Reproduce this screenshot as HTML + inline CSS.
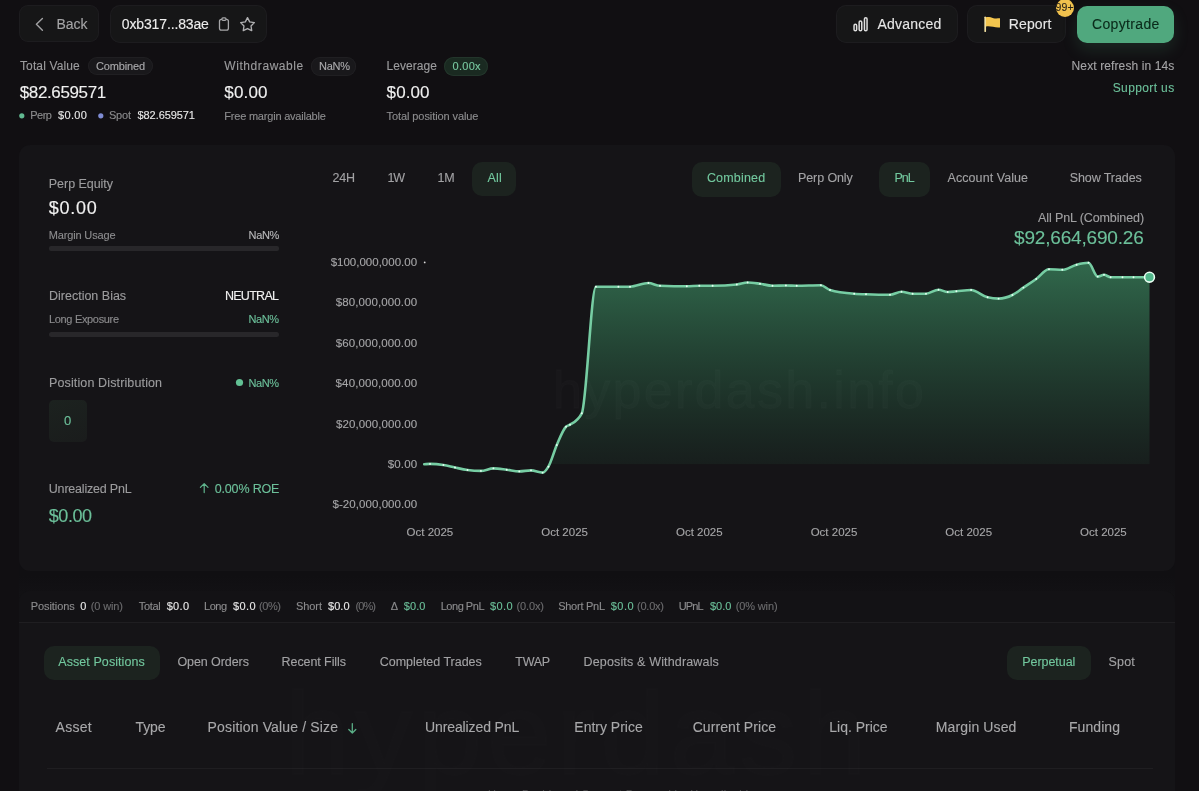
<!DOCTYPE html>
<html><head><meta charset="utf-8"><style>
html,body{margin:0;padding:0;}
body{width:1199px;height:791px;overflow:hidden;background:#110f12;position:relative;font-family:"Liberation Sans",sans-serif;-webkit-font-smoothing:antialiased;}
.wrap{position:absolute;left:0;top:0;width:1199px;height:791px;overflow:hidden;will-change:transform;}
.t{position:absolute;white-space:nowrap;-webkit-text-stroke:0.12px currentColor;}
.r{position:absolute;}
svg{position:absolute;left:0;top:0;}
</style></head><body><div class="wrap">
<div class="r" style="left:19px;top:560px;width:1156px;height:40px;background:linear-gradient(#100f12 0%,#100f12 40%,#131215 100%);border-radius:0px;"></div>
<div class="r" style="left:19px;top:145px;width:1156px;height:426px;background:#151417;border-radius:11px;"></div>
<div class="r" style="left:19px;top:591px;width:1156px;height:229px;background:#151417;border-radius:11px;"></div>
<svg width="1199" height="791" viewBox="0 0 1199 791"><defs>
<linearGradient id="gf" x1="0" y1="262" x2="0" y2="464.3" gradientUnits="userSpaceOnUse">
<stop offset="0" stop-color="#3d8d63" stop-opacity="0.70"/>
<stop offset="1" stop-color="#2a6a48" stop-opacity="0.12"/>
</linearGradient>
<clipPath id="cz"><rect x="400" y="200" width="800" height="264.3"/></clipPath>
</defs>
<path d="M424.2 464.2 C426.1 464.1 428.1 463.9 430.0 463.9 C434.5 463.9 438.9 464.3 443.4 465.0 C447.3 465.6 451.1 466.7 455.0 467.5 C459.2 468.4 463.3 469.4 467.5 470.0 C472.0 470.6 476.4 470.9 480.9 470.9 C485.1 470.9 489.2 468.4 493.4 468.4 C497.8 468.4 502.3 469.2 506.7 469.7 C510.9 470.2 515.1 471.4 519.3 471.4 C523.2 471.4 527.1 470.4 531.0 470.4 C534.9 470.4 538.7 472.6 542.6 472.6 C544.5 472.6 546.5 469.9 548.4 466.7 C551.2 462.1 554.0 451.4 556.8 445.0 C559.9 437.9 562.9 429.6 566.0 426.7 C567.3 425.4 568.7 425.5 570.0 424.7 C573.9 422.3 577.9 420.9 581.8 413.3 C586.5 404.2 591.2 286.7 595.9 286.7 C603.4 286.7 610.9 286.7 618.4 286.7 C622.3 286.7 626.1 286.7 630.0 286.7 C636.1 286.7 642.3 283.0 648.4 283.0 C652.3 283.0 656.1 285.7 660.0 285.8 C668.9 286.1 677.9 286.3 686.8 286.3 C691.0 286.3 695.1 285.8 699.3 285.8 C703.7 285.8 708.2 285.8 712.6 285.8 C720.7 285.8 728.7 285.4 736.8 284.5 C740.4 284.1 744.0 282.5 747.6 282.5 C751.7 282.5 755.9 283.2 760.0 283.7 C764.2 284.3 768.3 285.8 772.5 285.8 C777.0 285.8 781.4 285.5 785.9 285.5 C789.5 285.5 793.1 285.8 796.7 285.8 C804.8 285.8 812.8 285.3 820.9 285.3 C823.9 285.3 827.0 289.1 830.0 290.0 C838.1 292.5 846.1 293.1 854.2 293.7 C858.1 294.0 862.1 294.1 866.0 294.2 C874.0 294.5 882.0 294.7 890.0 294.7 C893.8 294.7 897.7 291.7 901.5 291.7 C905.2 291.7 908.9 293.7 912.6 293.7 C917.1 293.7 921.5 293.7 926.0 293.7 C930.2 293.7 934.3 289.7 938.5 289.7 C941.6 289.7 944.6 292.0 947.7 292.0 C950.6 292.0 953.5 291.5 956.4 291.3 C961.3 290.9 966.2 290.0 971.1 290.0 C976.6 290.0 982.1 296.0 987.6 297.3 C991.3 298.2 994.9 298.6 998.6 298.6 C1003.2 298.6 1007.8 297.3 1012.4 295.0 C1016.1 293.2 1019.7 290.1 1023.4 287.6 C1027.7 284.7 1031.9 282.1 1036.2 279.0 C1040.5 275.9 1044.7 269.3 1049.0 269.3 C1053.4 269.3 1057.9 269.8 1062.3 269.8 C1067.1 269.8 1071.8 265.9 1076.6 264.7 C1080.6 263.7 1084.5 262.8 1088.5 262.8 C1091.6 262.8 1094.6 276.6 1097.7 276.6 C1099.8 276.6 1101.9 274.8 1104.0 274.8 C1106.2 274.8 1108.4 277.2 1110.6 277.2 C1114.6 277.2 1118.5 277.2 1122.5 277.2 C1126.2 277.2 1129.8 277.2 1133.5 277.2 C1138.8 277.2 1144.2 277.2 1149.5 277.2 L1149.5 464.3 L424.2 464.3 Z" fill="url(#gf)" clip-path="url(#cz)"/>
<path d="M424.2 464.2 C426.1 464.1 428.1 463.9 430.0 463.9 C434.5 463.9 438.9 464.3 443.4 465.0 C447.3 465.6 451.1 466.7 455.0 467.5 C459.2 468.4 463.3 469.4 467.5 470.0 C472.0 470.6 476.4 470.9 480.9 470.9 C485.1 470.9 489.2 468.4 493.4 468.4 C497.8 468.4 502.3 469.2 506.7 469.7 C510.9 470.2 515.1 471.4 519.3 471.4 C523.2 471.4 527.1 470.4 531.0 470.4 C534.9 470.4 538.7 472.6 542.6 472.6 C544.5 472.6 546.5 469.9 548.4 466.7 C551.2 462.1 554.0 451.4 556.8 445.0 C559.9 437.9 562.9 429.6 566.0 426.7 C567.3 425.4 568.7 425.5 570.0 424.7 C573.9 422.3 577.9 420.9 581.8 413.3 C586.5 404.2 591.2 286.7 595.9 286.7 C603.4 286.7 610.9 286.7 618.4 286.7 C622.3 286.7 626.1 286.7 630.0 286.7 C636.1 286.7 642.3 283.0 648.4 283.0 C652.3 283.0 656.1 285.7 660.0 285.8 C668.9 286.1 677.9 286.3 686.8 286.3 C691.0 286.3 695.1 285.8 699.3 285.8 C703.7 285.8 708.2 285.8 712.6 285.8 C720.7 285.8 728.7 285.4 736.8 284.5 C740.4 284.1 744.0 282.5 747.6 282.5 C751.7 282.5 755.9 283.2 760.0 283.7 C764.2 284.3 768.3 285.8 772.5 285.8 C777.0 285.8 781.4 285.5 785.9 285.5 C789.5 285.5 793.1 285.8 796.7 285.8 C804.8 285.8 812.8 285.3 820.9 285.3 C823.9 285.3 827.0 289.1 830.0 290.0 C838.1 292.5 846.1 293.1 854.2 293.7 C858.1 294.0 862.1 294.1 866.0 294.2 C874.0 294.5 882.0 294.7 890.0 294.7 C893.8 294.7 897.7 291.7 901.5 291.7 C905.2 291.7 908.9 293.7 912.6 293.7 C917.1 293.7 921.5 293.7 926.0 293.7 C930.2 293.7 934.3 289.7 938.5 289.7 C941.6 289.7 944.6 292.0 947.7 292.0 C950.6 292.0 953.5 291.5 956.4 291.3 C961.3 290.9 966.2 290.0 971.1 290.0 C976.6 290.0 982.1 296.0 987.6 297.3 C991.3 298.2 994.9 298.6 998.6 298.6 C1003.2 298.6 1007.8 297.3 1012.4 295.0 C1016.1 293.2 1019.7 290.1 1023.4 287.6 C1027.7 284.7 1031.9 282.1 1036.2 279.0 C1040.5 275.9 1044.7 269.3 1049.0 269.3 C1053.4 269.3 1057.9 269.8 1062.3 269.8 C1067.1 269.8 1071.8 265.9 1076.6 264.7 C1080.6 263.7 1084.5 262.8 1088.5 262.8 C1091.6 262.8 1094.6 276.6 1097.7 276.6 C1099.8 276.6 1101.9 274.8 1104.0 274.8 C1106.2 274.8 1108.4 277.2 1110.6 277.2 C1114.6 277.2 1118.5 277.2 1122.5 277.2 C1126.2 277.2 1129.8 277.2 1133.5 277.2 C1138.8 277.2 1144.2 277.2 1149.5 277.2" fill="none" stroke="#76cda3" stroke-width="2.6" stroke-linejoin="round" stroke-linecap="round"/>
<circle cx="430" cy="463.9" r="0.95" fill="#e8fff2"/><circle cx="443.4" cy="465" r="0.95" fill="#e8fff2"/><circle cx="455" cy="467.5" r="0.95" fill="#e8fff2"/><circle cx="467.5" cy="470" r="0.95" fill="#e8fff2"/><circle cx="480.9" cy="470.9" r="0.95" fill="#e8fff2"/><circle cx="493.4" cy="468.4" r="0.95" fill="#e8fff2"/><circle cx="506.7" cy="469.7" r="0.95" fill="#e8fff2"/><circle cx="519.3" cy="471.4" r="0.95" fill="#e8fff2"/><circle cx="531" cy="470.4" r="0.95" fill="#e8fff2"/><circle cx="542.6" cy="472.6" r="0.95" fill="#e8fff2"/><circle cx="548.4" cy="466.7" r="0.95" fill="#e8fff2"/><circle cx="556.8" cy="445" r="0.95" fill="#e8fff2"/><circle cx="566" cy="426.7" r="0.95" fill="#e8fff2"/><circle cx="570" cy="424.7" r="0.95" fill="#e8fff2"/><circle cx="581.8" cy="413.3" r="0.95" fill="#e8fff2"/><circle cx="595.9" cy="286.7" r="0.95" fill="#e8fff2"/><circle cx="618.4" cy="286.7" r="0.95" fill="#e8fff2"/><circle cx="630" cy="286.7" r="0.95" fill="#e8fff2"/><circle cx="648.4" cy="283" r="0.95" fill="#e8fff2"/><circle cx="660" cy="285.8" r="0.95" fill="#e8fff2"/><circle cx="686.8" cy="286.3" r="0.95" fill="#e8fff2"/><circle cx="699.3" cy="285.8" r="0.95" fill="#e8fff2"/><circle cx="712.6" cy="285.8" r="0.95" fill="#e8fff2"/><circle cx="736.8" cy="284.5" r="0.95" fill="#e8fff2"/><circle cx="747.6" cy="282.5" r="0.95" fill="#e8fff2"/><circle cx="760" cy="283.7" r="0.95" fill="#e8fff2"/><circle cx="772.5" cy="285.8" r="0.95" fill="#e8fff2"/><circle cx="785.9" cy="285.5" r="0.95" fill="#e8fff2"/><circle cx="796.7" cy="285.8" r="0.95" fill="#e8fff2"/><circle cx="820.9" cy="285.3" r="0.95" fill="#e8fff2"/><circle cx="830" cy="290" r="0.95" fill="#e8fff2"/><circle cx="854.2" cy="293.7" r="0.95" fill="#e8fff2"/><circle cx="866" cy="294.2" r="0.95" fill="#e8fff2"/><circle cx="890" cy="294.7" r="0.95" fill="#e8fff2"/><circle cx="901.5" cy="291.7" r="0.95" fill="#e8fff2"/><circle cx="912.6" cy="293.7" r="0.95" fill="#e8fff2"/><circle cx="926" cy="293.7" r="0.95" fill="#e8fff2"/><circle cx="938.5" cy="289.7" r="0.95" fill="#e8fff2"/><circle cx="947.7" cy="292" r="0.95" fill="#e8fff2"/><circle cx="956.4" cy="291.3" r="0.95" fill="#e8fff2"/><circle cx="971.1" cy="290" r="0.95" fill="#e8fff2"/><circle cx="987.6" cy="297.3" r="0.95" fill="#e8fff2"/><circle cx="998.6" cy="298.6" r="0.95" fill="#e8fff2"/><circle cx="1012.4" cy="295" r="0.95" fill="#e8fff2"/><circle cx="1023.4" cy="287.6" r="0.95" fill="#e8fff2"/><circle cx="1036.2" cy="279" r="0.95" fill="#e8fff2"/><circle cx="1049" cy="269.3" r="0.95" fill="#e8fff2"/><circle cx="1062.3" cy="269.8" r="0.95" fill="#e8fff2"/><circle cx="1076.6" cy="264.7" r="0.95" fill="#e8fff2"/><circle cx="1088.5" cy="262.8" r="0.95" fill="#e8fff2"/><circle cx="1097.7" cy="276.6" r="0.95" fill="#e8fff2"/><circle cx="1104" cy="274.8" r="0.95" fill="#e8fff2"/><circle cx="1110.6" cy="277.2" r="0.95" fill="#e8fff2"/><circle cx="1122.5" cy="277.2" r="0.95" fill="#e8fff2"/><circle cx="1133.5" cy="277.2" r="0.95" fill="#e8fff2"/><circle cx="1149.5" cy="277.2" r="4.9" fill="#50b68a" stroke="#e8fff2" stroke-width="1.6"/></svg>
<div class="t" style="left:553px;top:364px;font-size:52px;line-height:52px;font-weight:400;color:rgba(255,255,255,0.016);letter-spacing:2.3px;-webkit-text-stroke:1.3px rgba(255,255,255,0.016);">hyperdash.info</div>
<div class="r" style="left:19px;top:5px;width:80px;height:37px;background:#161617;border-radius:9px;box-shadow:inset 0 0 0 1px #1d1c1f;"></div>
<div class="r" style="left:110px;top:5px;width:157px;height:38px;background:#161617;border-radius:10px;box-shadow:inset 0 0 0 1px #1d1c1f;"></div>
<div class="r" style="left:836px;top:5px;width:122px;height:38px;background:#161617;border-radius:10px;box-shadow:inset 0 0 0 1px #1d1c1f;"></div>
<div class="r" style="left:967px;top:5px;width:99px;height:38px;background:#161617;border-radius:10px;box-shadow:inset 0 0 0 1px #1d1c1f;"></div>
<div class="r" style="left:1077px;top:6px;width:97px;height:37px;background:#50a87e;border-radius:10px;box-shadow:0 7px 16px rgba(79,167,125,0.16);"></div>
<div class="r" style="left:1056px;top:-1px;width:18px;height:18px;background:#f0c14d;border-radius:9px;"></div>
<div class="r" style="left:88px;top:57px;width:65px;height:18px;background:#19181b;border-radius:9px;box-shadow:inset 0 0 0 1px #201f22;"></div>
<div class="r" style="left:311px;top:57px;width:45px;height:18.5px;background:#19181b;border-radius:9px;box-shadow:inset 0 0 0 1px #201f22;"></div>
<div class="r" style="left:444px;top:57px;width:44px;height:19px;background:#1a2a21;border-radius:9.5px;box-shadow:inset 0 0 0 1px #23352b;"></div>
<div class="r" style="left:49px;top:246px;width:230px;height:4.5px;background:#28272a;border-radius:2px;"></div>
<div class="r" style="left:49px;top:332px;width:230px;height:5px;background:#28272a;border-radius:2.5px;"></div>
<div class="r" style="left:49px;top:400px;width:38px;height:42px;background:linear-gradient(160deg,#1c221f 0%,#1a1c1c 100%);border-radius:5px;"></div>
<div class="r" style="left:472px;top:162px;width:44px;height:33.5px;background:#1c231f;border-radius:10px;"></div>
<div class="r" style="left:692px;top:162px;width:89px;height:34.5px;background:#1c231f;border-radius:10px;"></div>
<div class="r" style="left:878.5px;top:162px;width:51.0px;height:34.5px;background:#1c231f;border-radius:10px;"></div>
<div class="r" style="left:19px;top:591px;width:1156px;height:31px;background:#131215;border-radius:11px;border-bottom-left-radius:0;border-bottom-right-radius:0;"></div>
<div class="r" style="left:19px;top:622px;width:1156px;height:1px;background:#1f1e21;border-radius:0px;"></div>
<div class="r" style="left:44px;top:646px;width:116px;height:34px;background:#1c231f;border-radius:10px;"></div>
<div class="r" style="left:1006.5px;top:646px;width:84.0px;height:33.5px;background:#1c231f;border-radius:10px;"></div>
<div class="r" style="left:47px;top:768px;width:1106px;height:1px;background:#1f1e21;border-radius:0px;"></div>
<div class="t" style="left:285px;top:676px;font-size:116px;line-height:116px;font-weight:400;color:rgba(255,255,255,0.008);letter-spacing:5px;-webkit-text-stroke:2.5px rgba(255,255,255,0.008);">hyperdash</div>
<div class="t" style="left:488px;top:789px;font-size:11px;line-height:11px;color:#4a494c;letter-spacing:0.3px;">Home  Dashboard  Support  Powered by Hyperliquid</div>
<svg width="1199" height="791" viewBox="0 0 1199 791"><path d="M42.4 18.4 L36.4 24.3 L42.4 30.2" fill="none" stroke="#a0a0a2" stroke-width="1.4" stroke-linecap="round" stroke-linejoin="round"/><rect x="219.5" y="19.3" width="8.9" height="10.8" rx="1.9" fill="none" stroke="#a6a6a8" stroke-width="1.3"/><rect x="221.9" y="17.9" width="4.1" height="2.4" rx="1" fill="#161617" stroke="#a6a6a8" stroke-width="1.2"/><polygon points="247.50,17.65 249.67,21.86 254.35,22.63 251.02,25.99 251.73,30.67 247.50,28.55 243.27,30.67 243.98,25.99 240.65,22.63 245.33,21.86" fill="none" stroke="#b0b0b2" stroke-width="1.35" stroke-linejoin="round"/><rect x="854.05" y="24.35" width="2.6" height="6.5" rx="1.3" fill="none" stroke="#dedede" stroke-width="1.5"/><rect x="859.15" y="21.05" width="2.6" height="9.8" rx="1.3" fill="none" stroke="#dedede" stroke-width="1.5"/><rect x="864.45" y="17.65" width="2.6" height="13.2" rx="1.3" fill="none" stroke="#dedede" stroke-width="1.5"/><path d="M985.2 31.2 L985.2 17.3" stroke="#f0dfa0" stroke-width="1.7" stroke-linecap="round"/><path d="M986 17.2 C989 16.8 991 17.6 993.5 18.2 C996 18.7 998 18.3 1000 18.3 L1000 27.4 C997.5 27.6 995.5 27.4 993 26.8 C990.5 26.3 988.5 26.1 986 26.4 Z" fill="#f3c54e"/><circle cx="21.8" cy="115.8" r="2.6" fill="#62b991"/><circle cx="100.8" cy="115.8" r="2.6" fill="#7f8cd4"/><circle cx="239.5" cy="382.5" r="3.6" fill="#62c194"/><path d="M204.2 492.6 L204.2 483.6 M200.4 487.4 L204.2 483.6 L208 487.4" fill="none" stroke="#5fb38c" stroke-width="1.2" stroke-linecap="round" stroke-linejoin="round"/><circle cx="424.7" cy="262.4" r="0.9" fill="#dddddd"/><path d="M352.3 723.6 L352.3 733 M348.8 729.5 L352.3 733 L355.8 729.5" fill="none" stroke="#5aae86" stroke-width="1.3" stroke-linecap="round" stroke-linejoin="round"/></svg>
<div class="t" style="left:56.60px;top:17px;font-size:14.0px;line-height:14.0px;color:#a4a4a6;letter-spacing:-0.08px;">Back</div>
<div class="t" style="left:121.80px;top:17px;font-size:14.0px;line-height:14.0px;color:#ededed;letter-spacing:-0.14px;">0xb317...83ae</div>
<div class="t" style="left:877.50px;top:17px;font-size:14.0px;line-height:14.0px;color:#e6e6e6;letter-spacing:0.22px;">Advanced</div>
<div class="t" style="left:1008.80px;top:17px;font-size:14.0px;line-height:14.0px;color:#e6e6e6;letter-spacing:0.10px;">Report</div>
<div class="t" style="left:1092.00px;top:17px;font-size:14.0px;line-height:14.0px;color:#0a2a1a;letter-spacing:0.34px;">Copytrade</div>
<div class="t" style="left:1055.50px;top:2px;font-size:10.5px;line-height:10.5px;color:#2a2418;letter-spacing:0.10px;">99+</div>
<div class="t" style="left:20.00px;top:60px;font-size:12.0px;line-height:12.0px;color:#9c9c9e;letter-spacing:0.12px;">Total Value</div>
<div class="t" style="left:96.00px;top:61px;font-size:11.0px;line-height:11.0px;color:#aaaaac;letter-spacing:-0.16px;">Combined</div>
<div class="t" style="left:19.70px;top:84px;font-size:17.0px;line-height:17.0px;color:#f0f0f0;letter-spacing:-0.36px;">$82.659571</div>
<div class="t" style="left:30.30px;top:110px;font-size:11.0px;line-height:11.0px;color:#8c8c8e;letter-spacing:-0.52px;">Perp</div>
<div class="t" style="left:58.00px;top:110px;font-size:11.0px;line-height:11.0px;color:#e8e8e8;letter-spacing:0.36px;">$0.00</div>
<div class="t" style="left:109.00px;top:110px;font-size:11.0px;line-height:11.0px;color:#8c8c8e;letter-spacing:-0.22px;">Spot</div>
<div class="t" style="left:137.50px;top:110px;font-size:11.0px;line-height:11.0px;color:#e8e8e8;letter-spacing:-0.07px;">$82.659571</div>
<div class="t" style="left:224.30px;top:60px;font-size:12.0px;line-height:12.0px;color:#9c9c9e;letter-spacing:0.57px;">Withdrawable</div>
<div class="t" style="left:319.00px;top:61px;font-size:11.0px;line-height:11.0px;color:#aaaaac;letter-spacing:-0.27px;">NaN%</div>
<div class="t" style="left:224.30px;top:84px;font-size:17.0px;line-height:17.0px;color:#f0f0f0;letter-spacing:0.16px;">$0.00</div>
<div class="t" style="left:224.30px;top:111px;font-size:11.0px;line-height:11.0px;color:#8c8c8e;letter-spacing:-0.21px;">Free margin available</div>
<div class="t" style="left:386.60px;top:60px;font-size:12.0px;line-height:12.0px;color:#9c9c9e;letter-spacing:0.04px;">Leverage</div>
<div class="t" style="left:452.50px;top:61px;font-size:11.0px;line-height:11.0px;color:#78c9a0;letter-spacing:0.28px;">0.00x</div>
<div class="t" style="left:386.60px;top:84px;font-size:17.0px;line-height:17.0px;color:#f0f0f0;letter-spacing:0.09px;">$0.00</div>
<div class="t" style="left:386.60px;top:111px;font-size:11.0px;line-height:11.0px;color:#8c8c8e;letter-spacing:-0.09px;">Total position value</div>
<div class="t" style="left:1071.60px;top:60px;font-size:12.0px;line-height:12.0px;color:#a4a4a6;letter-spacing:0.11px;">Next refresh in 14s</div>
<div class="t" style="left:1112.70px;top:82px;font-size:12.0px;line-height:12.0px;color:#6cc09a;letter-spacing:0.38px;">Support us</div>
<div class="t" style="left:48.80px;top:178px;font-size:12.5px;line-height:12.5px;color:#9c9c9e;letter-spacing:-0.04px;">Perp Equity</div>
<div class="t" style="left:48.80px;top:199px;font-size:18.0px;line-height:18.0px;color:#f2f2f2;letter-spacing:0.71px;">$0.00</div>
<div class="t" style="left:48.80px;top:230px;font-size:11.0px;line-height:11.0px;color:#8c8c8e;letter-spacing:-0.16px;">Margin Usage</div>
<div class="t" style="left:248.50px;top:230px;font-size:11.0px;line-height:11.0px;color:#b8b8ba;letter-spacing:-0.30px;">NaN%</div>
<div class="t" style="left:49.00px;top:290px;font-size:12.5px;line-height:12.5px;color:#9c9c9e;">Direction Bias</div>
<div class="t" style="left:224.90px;top:290px;font-size:12.5px;line-height:12.5px;color:#f0f0f0;letter-spacing:-0.71px;">NEUTRAL</div>
<div class="t" style="left:49.00px;top:314px;font-size:11.0px;line-height:11.0px;color:#8c8c8e;letter-spacing:-0.33px;">Long Exposure</div>
<div class="t" style="left:248.50px;top:314px;font-size:11.0px;line-height:11.0px;color:#6cc09a;letter-spacing:-0.43px;">NaN%</div>
<div class="t" style="left:49.00px;top:377px;font-size:12.5px;line-height:12.5px;color:#9c9c9e;letter-spacing:0.13px;">Position Distribution</div>
<div class="t" style="left:248.50px;top:378px;font-size:11.0px;line-height:11.0px;color:#6cc09a;letter-spacing:-0.43px;">NaN%</div>
<div class="t" style="left:63.90px;top:414px;font-size:13.0px;line-height:13.0px;color:#6cc09a;">0</div>
<div class="t" style="left:48.80px;top:483px;font-size:12.5px;line-height:12.5px;color:#9c9c9e;letter-spacing:-0.20px;">Unrealized PnL</div>
<div class="t" style="left:214.70px;top:483px;font-size:12.5px;line-height:12.5px;color:#6cc09a;letter-spacing:-0.16px;">0.00% ROE</div>
<div class="t" style="left:48.80px;top:507px;font-size:18.0px;line-height:18.0px;color:#6cc09a;letter-spacing:-0.46px;">$0.00</div>
<div class="t" style="left:332.40px;top:172px;font-size:12.5px;line-height:12.5px;color:#a2a2a4;letter-spacing:-0.17px;">24H</div>
<div class="t" style="left:387.40px;top:172px;font-size:12.5px;line-height:12.5px;color:#a2a2a4;letter-spacing:-1.15px;">1W</div>
<div class="t" style="left:437.50px;top:172px;font-size:12.5px;line-height:12.5px;color:#a2a2a4;letter-spacing:-0.25px;">1M</div>
<div class="t" style="left:487.60px;top:172px;font-size:12.5px;line-height:12.5px;color:#72c89e;letter-spacing:0.10px;">All</div>
<div class="t" style="left:706.90px;top:172px;font-size:12.5px;line-height:12.5px;color:#72c89e;letter-spacing:0.19px;">Combined</div>
<div class="t" style="left:798.00px;top:172px;font-size:12.5px;line-height:12.5px;color:#a2a2a4;letter-spacing:-0.10px;">Perp Only</div>
<div class="t" style="left:894.40px;top:172px;font-size:12.5px;line-height:12.5px;color:#72c89e;letter-spacing:-0.97px;">PnL</div>
<div class="t" style="left:947.60px;top:172px;font-size:12.5px;line-height:12.5px;color:#a2a2a4;letter-spacing:0.06px;">Account Value</div>
<div class="t" style="left:1069.70px;top:172px;font-size:12.5px;line-height:12.5px;color:#a2a2a4;letter-spacing:-0.09px;">Show Trades</div>
<div class="t" style="left:1038.00px;top:212px;font-size:12.5px;line-height:12.5px;color:#a0a0a2;letter-spacing:-0.11px;">All PnL (Combined)</div>
<div class="t" style="left:1014.00px;top:228px;font-size:19.0px;line-height:19.0px;color:#6cc09a;letter-spacing:-0.18px;">$92,664,690.26</div>
<div class="t" style="left:330.70px;top:257px;font-size:11.5px;line-height:11.5px;color:#a6a6a8;">$100,000,000.00</div>
<div class="t" style="left:335.80px;top:297px;font-size:11.5px;line-height:11.5px;color:#a6a6a8;letter-spacing:0.10px;">$80,000,000.00</div>
<div class="t" style="left:335.80px;top:338px;font-size:11.5px;line-height:11.5px;color:#a6a6a8;letter-spacing:0.10px;">$60,000,000.00</div>
<div class="t" style="left:335.60px;top:378px;font-size:11.5px;line-height:11.5px;color:#a6a6a8;letter-spacing:0.12px;">$40,000,000.00</div>
<div class="t" style="left:336.00px;top:419px;font-size:11.5px;line-height:11.5px;color:#a6a6a8;letter-spacing:0.09px;">$20,000,000.00</div>
<div class="t" style="left:387.80px;top:459px;font-size:11.5px;line-height:11.5px;color:#a6a6a8;letter-spacing:0.13px;">$0.00</div>
<div class="t" style="left:332.50px;top:499px;font-size:11.5px;line-height:11.5px;color:#a6a6a8;letter-spacing:0.06px;">$-20,000,000.00</div>
<div class="t" style="left:406.57px;top:527px;font-size:11.5px;line-height:11.5px;color:#a6a6a8;">Oct 2025</div>
<div class="t" style="left:541.27px;top:527px;font-size:11.5px;line-height:11.5px;color:#a6a6a8;">Oct 2025</div>
<div class="t" style="left:675.97px;top:527px;font-size:11.5px;line-height:11.5px;color:#a6a6a8;">Oct 2025</div>
<div class="t" style="left:810.67px;top:527px;font-size:11.5px;line-height:11.5px;color:#a6a6a8;">Oct 2025</div>
<div class="t" style="left:945.37px;top:527px;font-size:11.5px;line-height:11.5px;color:#a6a6a8;">Oct 2025</div>
<div class="t" style="left:1080.08px;top:527px;font-size:11.5px;line-height:11.5px;color:#a6a6a8;">Oct 2025</div>
<div class="t" style="left:30.80px;top:601px;font-size:11.0px;line-height:11.0px;color:#8c8c8e;letter-spacing:-0.09px;">Positions</div>
<div class="t" style="left:80.30px;top:601px;font-size:11.0px;line-height:11.0px;color:#e8e8e8;">0</div>
<div class="t" style="left:90.80px;top:601px;font-size:11.0px;line-height:11.0px;color:#6c6c6e;letter-spacing:-0.13px;">(0 win)</div>
<div class="t" style="left:138.70px;top:601px;font-size:11.0px;line-height:11.0px;color:#8c8c8e;letter-spacing:-0.29px;">Total</div>
<div class="t" style="left:166.70px;top:601px;font-size:11.0px;line-height:11.0px;color:#e8e8e8;letter-spacing:0.30px;">$0.0</div>
<div class="t" style="left:204.00px;top:601px;font-size:11.0px;line-height:11.0px;color:#8c8c8e;letter-spacing:-0.48px;">Long</div>
<div class="t" style="left:233.00px;top:601px;font-size:11.0px;line-height:11.0px;color:#e8e8e8;letter-spacing:0.37px;">$0.0</div>
<div class="t" style="left:259.00px;top:601px;font-size:11.0px;line-height:11.0px;color:#6c6c6e;letter-spacing:-0.42px;">(0%)</div>
<div class="t" style="left:296.00px;top:601px;font-size:11.0px;line-height:11.0px;color:#8c8c8e;letter-spacing:-0.08px;">Short</div>
<div class="t" style="left:328.00px;top:601px;font-size:11.0px;line-height:11.0px;color:#e8e8e8;letter-spacing:0.03px;">$0.0</div>
<div class="t" style="left:355.50px;top:601px;font-size:11.0px;line-height:11.0px;color:#6c6c6e;letter-spacing:-0.92px;">(0%)</div>
<div class="t" style="left:390.70px;top:601px;font-size:11.0px;line-height:11.0px;color:#8c8c8e;">Δ</div>
<div class="t" style="left:403.70px;top:601px;font-size:11.0px;line-height:11.0px;color:#6cc09a;letter-spacing:0.13px;">$0.0</div>
<div class="t" style="left:440.70px;top:601px;font-size:11.0px;line-height:11.0px;color:#8c8c8e;letter-spacing:-0.47px;">Long PnL</div>
<div class="t" style="left:490.00px;top:601px;font-size:11.0px;line-height:11.0px;color:#6cc09a;letter-spacing:0.40px;">$0.0</div>
<div class="t" style="left:516.60px;top:601px;font-size:11.0px;line-height:11.0px;color:#6c6c6e;letter-spacing:-0.14px;">(0.0x)</div>
<div class="t" style="left:558.20px;top:601px;font-size:11.0px;line-height:11.0px;color:#8c8c8e;letter-spacing:-0.26px;">Short PnL</div>
<div class="t" style="left:610.80px;top:601px;font-size:11.0px;line-height:11.0px;color:#6cc09a;letter-spacing:0.43px;">$0.0</div>
<div class="t" style="left:637.00px;top:601px;font-size:11.0px;line-height:11.0px;color:#6c6c6e;letter-spacing:-0.22px;">(0.0x)</div>
<div class="t" style="left:678.80px;top:601px;font-size:11.0px;line-height:11.0px;color:#8c8c8e;letter-spacing:-0.90px;">UPnL</div>
<div class="t" style="left:710.00px;top:601px;font-size:11.0px;line-height:11.0px;color:#6cc09a;">$0.0</div>
<div class="t" style="left:735.70px;top:601px;font-size:11.0px;line-height:11.0px;color:#6c6c6e;letter-spacing:-0.13px;">(0% win)</div>
<div class="t" style="left:58.30px;top:656px;font-size:12.5px;line-height:12.5px;color:#72c89e;letter-spacing:0.07px;">Asset Positions</div>
<div class="t" style="left:177.40px;top:656px;font-size:12.5px;line-height:12.5px;color:#a2a2a4;letter-spacing:-0.07px;">Open Orders</div>
<div class="t" style="left:281.60px;top:656px;font-size:12.5px;line-height:12.5px;color:#a2a2a4;letter-spacing:-0.08px;">Recent Fills</div>
<div class="t" style="left:379.70px;top:656px;font-size:12.5px;line-height:12.5px;color:#a2a2a4;">Completed Trades</div>
<div class="t" style="left:515.30px;top:656px;font-size:12.5px;line-height:12.5px;color:#a2a2a4;letter-spacing:-0.25px;">TWAP</div>
<div class="t" style="left:583.50px;top:656px;font-size:12.5px;line-height:12.5px;color:#a2a2a4;letter-spacing:0.16px;">Deposits &amp; Withdrawals</div>
<div class="t" style="left:1022.20px;top:656px;font-size:12.5px;line-height:12.5px;color:#72c89e;letter-spacing:-0.04px;">Perpetual</div>
<div class="t" style="left:1108.50px;top:656px;font-size:12.5px;line-height:12.5px;color:#a2a2a4;letter-spacing:0.17px;">Spot</div>
<div class="t" style="left:55.60px;top:720px;font-size:14.0px;line-height:14.0px;color:#a8a8aa;letter-spacing:0.25px;">Asset</div>
<div class="t" style="left:135.50px;top:720px;font-size:14.0px;line-height:14.0px;color:#a8a8aa;letter-spacing:-0.12px;">Type</div>
<div class="t" style="left:207.60px;top:720px;font-size:14.0px;line-height:14.0px;color:#a8a8aa;letter-spacing:0.15px;">Position Value / Size</div>
<div class="t" style="left:425.00px;top:720px;font-size:14.0px;line-height:14.0px;color:#a8a8aa;letter-spacing:-0.11px;">Unrealized PnL</div>
<div class="t" style="left:574.30px;top:720px;font-size:14.0px;line-height:14.0px;color:#a8a8aa;">Entry Price</div>
<div class="t" style="left:692.70px;top:720px;font-size:14.0px;line-height:14.0px;color:#a8a8aa;letter-spacing:0.07px;">Current Price</div>
<div class="t" style="left:829.30px;top:720px;font-size:14.0px;line-height:14.0px;color:#a8a8aa;">Liq. Price</div>
<div class="t" style="left:935.80px;top:720px;font-size:14.0px;line-height:14.0px;color:#a8a8aa;letter-spacing:0.12px;">Margin Used</div>
<div class="t" style="left:1069.00px;top:720px;font-size:14.0px;line-height:14.0px;color:#a8a8aa;letter-spacing:0.07px;">Funding</div>
</div></body></html>
